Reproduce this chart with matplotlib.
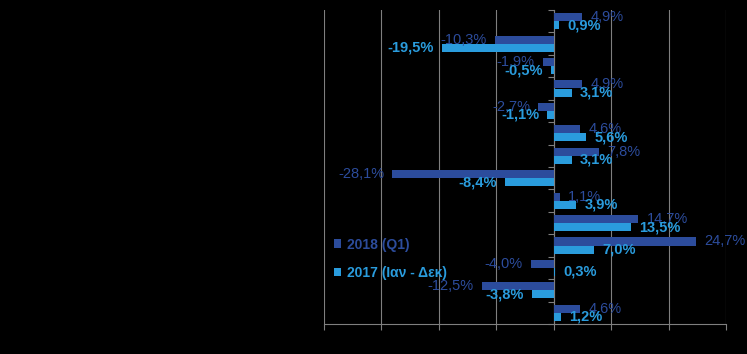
import matplotlib
matplotlib.use("Agg")
import matplotlib.pyplot as plt
import numpy as np

plt.rcParams['font.family'] = ['Liberation Sans', 'DejaVu Sans']

series_2018 = [4.9, -10.3, -1.9, 4.9, -2.7, 4.6, 7.8, -28.1, 1.1, 14.7, 24.7, -4.0, -12.5, 4.6]
series_2017 = [0.9, -19.5, -0.5, 3.1, -1.1, 5.6, 3.1, -8.4, 3.9, 13.5, 7.0, 0.3, -3.8, 1.2]
series_names = ["2018 (Q1)", "2017 (Ιαν - Δεκ)"]

dark = "#2C4C9C"
light = "#2A9CDD"
grid_c = "#7f7f7f"

fig = plt.figure(figsize=(7.47, 3.54), dpi=100, facecolor="black")
ax = fig.add_axes([324/747, 1-324/354, (726-324)/747, (324-10)/354], facecolor="black")

n = len(series_2018)
y = np.arange(n)
h = 0.36
b1 = ax.barh(y - h/2, series_2018, height=h, color=dark, label=series_names[0], zorder=3)
b2 = ax.barh(y + h/2, series_2017, height=h, color=light, label=series_names[1], zorder=3)

def fmt(v):
    return f"{v:.1f}%".replace(".", ",")

for bars, vals, col, wt in [(b1, series_2018, dark, "normal"), (b2, series_2017, light, "bold")]:
    for rect, v in zip(bars, vals):
        yc = rect.get_y() + rect.get_height()/2
        off = 6 if v >= 0 else -6
        ax.annotate(fmt(v), (v, yc), xytext=(off, 0), textcoords="offset points",
                    ha="left" if v >= 0 else "right", va="center",
                    color=col, fontsize=10.5, fontweight=wt, zorder=4)

ax.set_xlim(-40, 30)
ax.set_ylim(n - 0.5, -0.5)
ax.set_xticks(np.arange(-40, 31, 10))
ax.set_xticklabels([])
ax.xaxis.grid(True, color=grid_c, linewidth=0.8, zorder=0)
ax.tick_params(axis="x", colors=grid_c, length=4, direction="out")

ax.set_yticks(np.arange(-0.5, n, 1))
ax.set_yticklabels([])
ax.tick_params(axis="y", colors=grid_c, length=4, direction="out")

for s in ["top", "right"]:
    ax.spines[s].set_visible(False)
ax.spines["left"].set_position(("data", 0))
ax.spines["left"].set_color(grid_c)
ax.spines["bottom"].set_color(grid_c)

leg = ax.legend(loc="lower left", bbox_to_anchor=(-0.007, 0.10), frameon=False,
                prop={"size": 10, "weight": "bold"}, handlelength=0.55, handleheight=0.55,
                handletextpad=0.4, labelspacing=1.05)
for t, c in zip(leg.get_texts(), [dark, light]):
    t.set_color(c)

fig.savefig("out.png", dpi=100, facecolor="black")
